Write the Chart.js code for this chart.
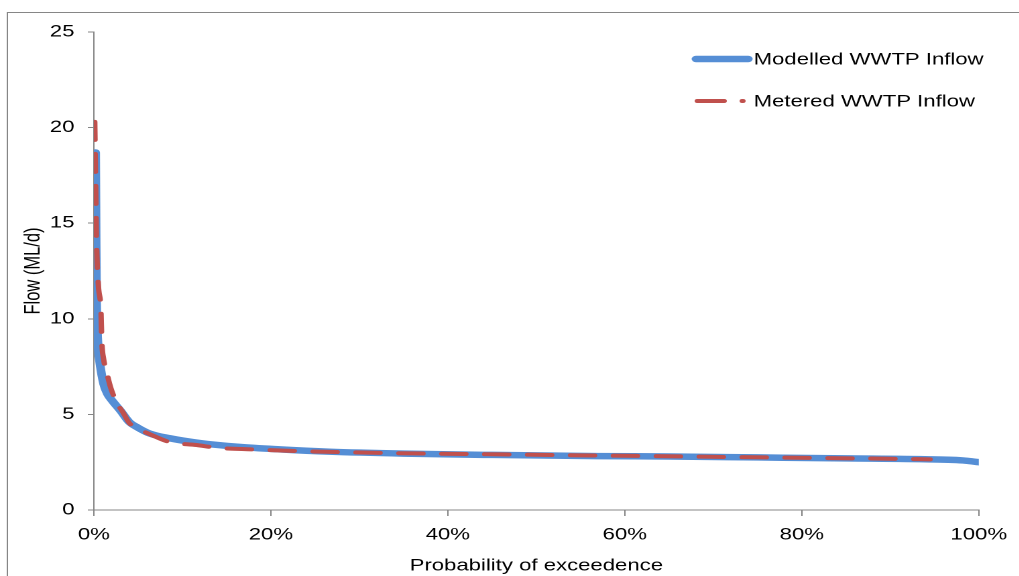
<!DOCTYPE html>
<html>
<head>
<meta charset="utf-8">
<script src="https://cdn.jsdelivr.net/npm/chart.js@4.4.1/dist/chart.umd.min.js"></script>
<style>
  html, body { margin: 0; padding: 0; background: #fff; overflow: hidden; }
  /* the source picture is stretched sideways, so draw narrower and widen it */
  #wrap { width: 760px; height: 576px; transform: scale(1.341, 1); transform-origin: 0 0; }
</style>
</head>
<body>
<div id="wrap"><canvas id="flowChart" width="760" height="576"></canvas></div>
<script>
// probability of exceedence (%) and flow (ML/d)
const exceedModelled = [0.2, 0.25, 0.3, 0.4, 0.5, 0.7, 1.1, 1.5, 2.1, 3, 4, 5, 6.3, 8.6, 12, 16.4, 21, 26.6, 35, 45, 57, 65, 75, 85, 94.5, 97, 98.5, 100]
const flowModelled   = [18.7, 14, 11, 9.3, 8.4, 7.6, 6.6, 6.1, 5.7, 5.2, 4.6, 4.3, 4.0, 3.75, 3.5, 3.3, 3.17, 3.05, 2.95, 2.88, 2.82, 2.8, 2.75, 2.7, 2.65, 2.62, 2.58, 2.5]

const exceedMetered = [0.1, 0.2, 0.3, 0.5, 0.8, 0.9, 1.1, 1.5, 1.9, 2.6, 3.3, 4, 5, 6.3, 8.6, 11.6, 13.8, 17.9, 23.2, 28.8, 36, 46, 55, 63, 72, 82, 90, 94.5]
const flowMetered   = [20.3, 17, 14, 11.8, 10.4, 8.8, 7.9, 7.1, 6.4, 5.6, 5.1, 4.55, 4.25, 3.97, 3.55, 3.4, 3.26, 3.17, 3.08, 3.02, 2.96, 2.91, 2.86, 2.82, 2.77, 2.72, 2.68, 2.65]

const seriesNames = ['Modelled WWTP Inflow', 'Metered WWTP Inflow']
const xTicks = [0, 20, 40, 60, 80, 100]
const yTicks = [0, 5, 10, 15, 20, 25]

const toPoints = (xs, ys) => xs.map((x, i) => ({ x: x, y: ys[i] }))

const axisGrey = '#868686'
const fontSize = 16.5
Chart.defaults.font.family = "'Liberation Sans', Arial, sans-serif"
Chart.defaults.font.size = fontSize
Chart.defaults.color = '#000'

// frame round the whole chart + legend in the top right corner
const framePlugin = {
    id: 'frame',
    beforeDraw(chart) {
        const c = chart.ctx
        c.save()
        c.strokeStyle = axisGrey
        c.lineWidth = 1
        c.strokeRect(5.5, 12.5, 900, 700)
        c.restore()
    },
    afterDraw(chart) {
        const c = chart.ctx
        c.save()
        c.font = fontSize + "px 'Liberation Sans', Arial, sans-serif"
        c.textBaseline = 'middle'
        c.fillStyle = '#000'
        chart.data.datasets.forEach((ds, i) => {
            const y = 59 + i * 42
            c.beginPath()
            c.strokeStyle = ds.borderColor
            c.lineWidth = ds.borderWidth
            c.lineCap = 'round'
            if (ds.borderDash.length) {
                c.moveTo(520, y)
                c.lineTo(540, y)
                c.moveTo(553.5, y)
                c.lineTo(554, y)
            } else {
                c.moveTo(519, y)
                c.lineTo(558, y)
            }
            c.stroke()
            c.fillText(ds.label, 562, y + 1)
        })
        c.restore()
    }
}

const data = {
    datasets: [
        {
            label: seriesNames[0],
            data: toPoints(exceedModelled, flowModelled),
            borderColor: '#558ED5',
            borderWidth: 6.5,
            borderDash: [],
            borderCapStyle: 'round',
            borderJoinStyle: 'round',
            cubicInterpolationMode: 'monotone',
            pointRadius: 0,
            fill: false,
            order: 2,
        },
        {
            label: seriesNames[1],
            data: toPoints(exceedMetered, flowMetered),
            borderColor: '#C0504D',
            borderWidth: 4,
            borderDash: [18, 14],
            borderCapStyle: 'round',
            cubicInterpolationMode: 'monotone',
            pointRadius: 0,
            fill: false,
            order: 1,
        }
    ]
}

const config = {
    type: 'line',
    data: data,
    plugins: [framePlugin],
    options: {
        responsive: false,
        devicePixelRatio: 2,
        animation: false,
        layout: { padding: { top: 32, right: 27, left: 0, bottom: 0 } },
        plugins: {
            legend: { display: false },
            tooltip: { enabled: false }
        },
        scales: {
            x: {
                type: 'linear',
                min: 0,
                max: 100,
                afterFit: (scale) => { scale.height = 66 },
                afterBuildTicks: (scale) => { scale.ticks = xTicks.map(v => ({ value: v })) },
                ticks: {
                    padding: 9,
                    color: '#000',
                    callback: (v) => v + '%'
                },
                grid: { drawOnChartArea: false, drawTicks: true, tickLength: 6, color: axisGrey },
                border: { display: true, color: axisGrey, width: 1 },
                title: {
                    display: true,
                    text: 'Probability of exceedence',
                    color: '#000',
                    padding: { top: 0, bottom: 0 }
                }
            },
            y: {
                min: 0,
                max: 25,
                afterFit: (scale) => { scale.width = 70 },
                afterBuildTicks: (scale) => { scale.ticks = yTicks.map(v => ({ value: v })) },
                ticks: { padding: 10, color: '#000' },
                grid: { drawOnChartArea: false, drawTicks: true, tickLength: 4.5, color: axisGrey },
                border: { display: true, color: axisGrey, width: 1 },
                title: {
                    display: true,
                    text: 'Flow (ML/d)',
                    color: '#000',
                    padding: { top: 15, bottom: 0 }
                }
            }
        }
    }
}

const chart = new Chart(document.getElementById('flowChart').getContext('2d'), config)
</script>
</body>
</html>
